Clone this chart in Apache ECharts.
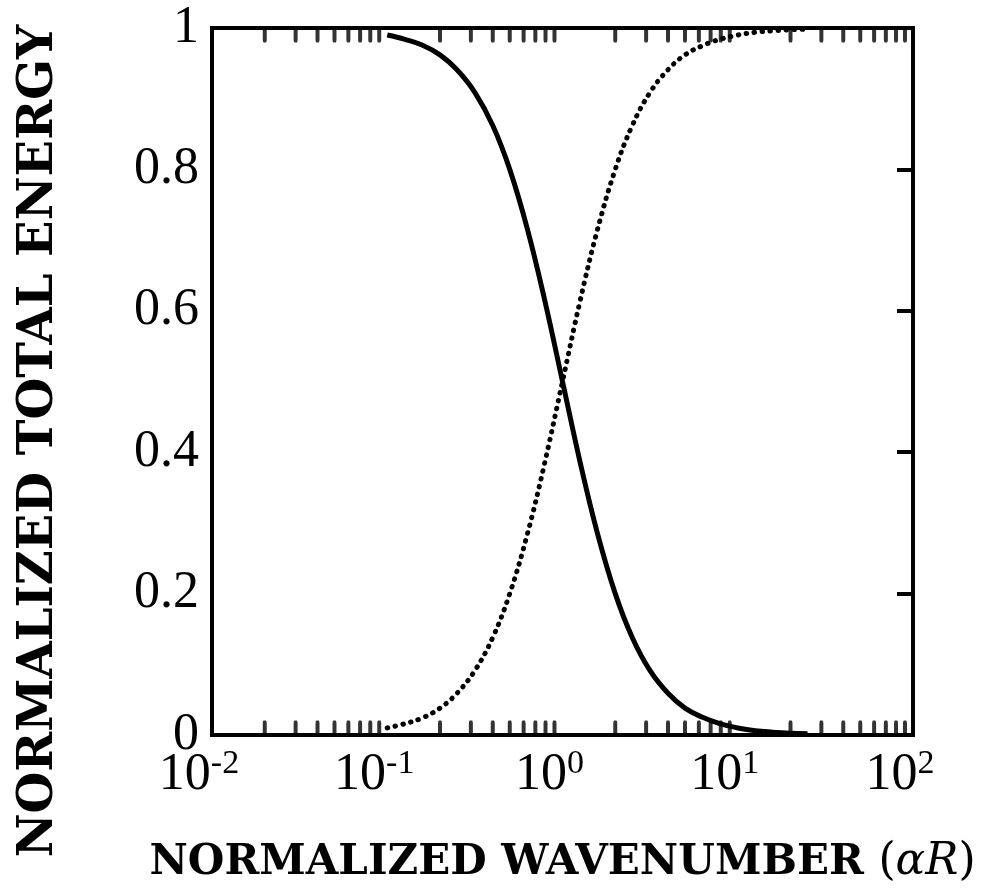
<!DOCTYPE html>
<html>
<head>
<meta charset="utf-8">
<script src="https://cdn.jsdelivr.net/npm/echarts@6/dist/echarts.min.js"></script>
<style>
html,body{margin:0;padding:0;background:#fff;}
#chart{width:997px;height:895px;}
</style>
</head>
<body>
<div id="chart"></div>
<script>
// Normalized wavenumber (alpha R)
var wavenumber = [0.1, 0.126, 0.158, 0.2, 0.25, 0.316, 0.4, 0.5, 0.63, 0.79, 1.0, 1.26, 1.58, 2.0, 2.5, 3.16, 4.0, 5.0, 6.3, 7.9, 10, 12.6, 15.8, 20, 25];
// Solid curve (decreasing)
var solidEnergy = [0.990, 0.984, 0.976, 0.962, 0.941, 0.909, 0.862, 0.800, 0.716, 0.616, 0.500, 0.386, 0.286, 0.200, 0.138, 0.091, 0.059, 0.038, 0.025, 0.016, 0.010, 0.006, 0.004, 0.0025, 0.0016];
// Dotted curve (increasing)
var dottedEnergy = [0.010, 0.016, 0.024, 0.038, 0.059, 0.091, 0.138, 0.200, 0.284, 0.384, 0.500, 0.614, 0.714, 0.800, 0.862, 0.909, 0.941, 0.962, 0.975, 0.984, 0.990, 0.994, 0.996, 0.9975, 0.9984];
// Minor tick values on the log x axis (top and bottom frame)
var minorTicks = [0.02,0.03,0.04,0.05,0.06,0.07,0.08,0.09, 0.2,0.3,0.4,0.5,0.6,0.7,0.8,0.9, 2,3,4,5,6,7,8,9, 20,30,40,50,60,70,80,90];
// Tick labels
var yTickLabels = {0:'0', 0.2:'0.2', 0.4:'0.4', 0.6:'0.6', 0.8:'0.8', 1:'1'};
var xExponents = {'-2':'-2', '-1':'-1', '0':'0', '1':'1', '2':'2'};

var chart = echarts.init(document.getElementById('chart'), null, {renderer:'canvas'});
function pairs(xs, ys){ return xs.map(function(x,i){ return [x, ys[i]]; }); }

var titleFont = 'DejaVu Serif';
var option = {
  animation: false,
  backgroundColor: '#fff',
  grid: {left: 212, right: 84, top: 28, bottom: 160, show: true, borderColor: '#000', borderWidth: 4, backgroundColor: 'transparent'},
  xAxis: {
    type: 'log', logBase: 10, min: 0.01, max: 100,
    axisLine: {show: false}, axisTick: {show: false}, splitLine: {show: false}, minorTick: {show: false},
    axisLabel: {
      margin: 12,
      formatter: function(v){
        var key = String(Math.round(Math.log10(v)));
        return '{b|10}{s|' + xExponents[key] + '}';
      },
      rich: {
        b: {fontFamily: 'Liberation Serif', fontSize: 52, color: '#000', lineHeight: 56},
        s: {fontFamily: 'Liberation Serif', fontSize: 34, color: '#000', lineHeight: 56, verticalAlign: 'top', padding:[0,26,15,0]}
      }
    },
    name: 'NORMALIZED WAVENUMBER {p|(}{i|αR}{p|)}',
    nameLocation: 'middle',
    nameGap: 106,
    nameTextStyle: {
      fontFamily: titleFont, fontWeight: 'bold', fontSize: 42, color: '#000', padding: [0, 0, 0, 0],
      rich: {
        p: {fontFamily: 'DejaVu Serif', fontWeight: 'normal', fontSize: 44, color: '#000'},
        i: {fontFamily: 'DejaVu Serif', fontStyle: 'italic', fontWeight: 'normal', fontSize: 44, color: '#000'}
      }
    }
  },
  yAxis: [{
    type: 'value', min: 0, max: 1, interval: 0.2,
    axisLine: {show: false}, axisTick: {show: false}, splitLine: {show: false},
    axisLabel: {
      margin: 13, color: '#000', fontFamily: 'Liberation Serif', fontSize: 52,
      formatter: function(v){ return yTickLabels[Math.round(v*10)/10]; }
    }
  }, {
    type: 'value', min: 0, max: 1, interval: 0.2, position: 'right',
    axisLine: {show: false}, splitLine: {show: false}, axisLabel: {show: false},
    axisTick: {show: true, inside: true, length: 16, lineStyle: {color: '#000', width: 4}}
  }],
  graphic: [{
    type: 'text', x: 40, y: 441, rotation: Math.PI/2,
    style: {text: 'NORMALIZED TOTAL ENERGY', fontFamily: titleFont, fontWeight: 'bold', fontSize: 48, fill: '#000', textAlign: 'center', textVerticalAlign: 'middle'}
  }],
  series: [{
    type: 'line', name: 'solid', data: pairs(wavenumber, solidEnergy), smooth: 0.4,
    showSymbol: false, symbol: 'none', lineStyle: {color: '#000', width: 5}, silent: true
  }, {
    type: 'line', name: 'dotted', data: pairs(wavenumber, dottedEnergy), smooth: 0.4,
    showSymbol: false, symbol: 'none', lineStyle: {color: '#000', width: 5, type: [0.5, 7.5], cap: 'round'}, silent: true
  }, {
    type: 'scatter', name: 'ticksBottom', data: minorTicks.map(function(v){ return [v, 0]; }),
    symbol: 'roundRect', symbolSize: [4, 15], symbolOffset: [0, -7], itemStyle: {color: '#000'}, silent: true, clip: false
  }, {
    type: 'scatter', name: 'ticksTop', data: minorTicks.map(function(v){ return [v, 1]; }),
    symbol: 'roundRect', symbolSize: [4, 15], symbolOffset: [0, 7], itemStyle: {color: '#000'}, silent: true, clip: false
  }]
};
chart.setOption(option);
</script>
</body>
</html>
